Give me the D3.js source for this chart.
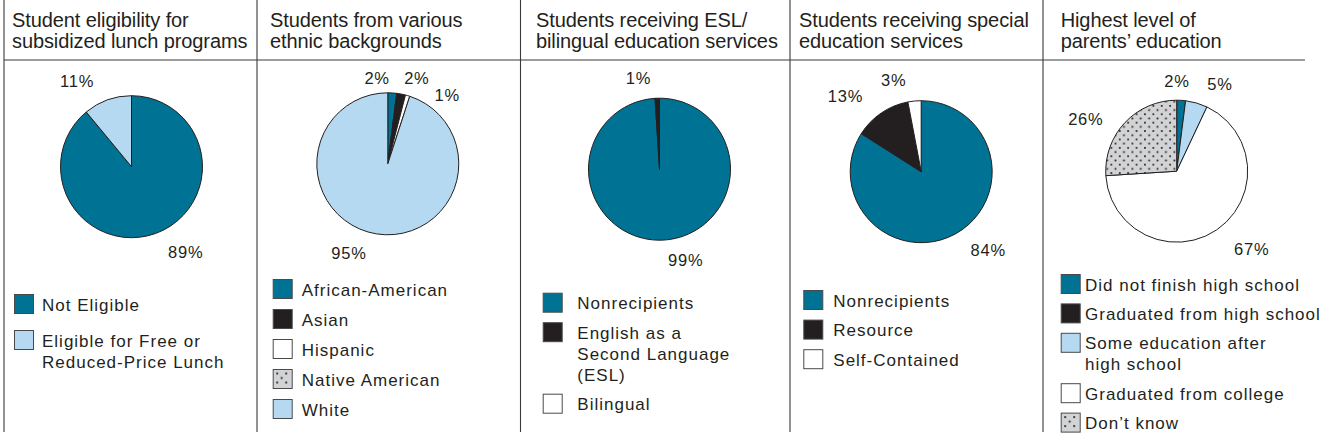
<!DOCTYPE html>
<html>
<head>
<meta charset="utf-8">
<script src="https://cdn.jsdelivr.net/npm/d3@7/dist/d3.min.js"></script>
<style>
  body { margin: 0; background: #fff; }
  svg { display: block; }
  text { font-family: "Liberation Sans", Arial, sans-serif; fill: #231f20; }
  .title { font-size: 20px; letter-spacing: -0.1px; }
  .pct { font-size: 16.5px; letter-spacing: 0.8px; }
  .leg { font-size: 17px; letter-spacing: 1px; }
</style>
</head>
<body>
<div id="chart"></div>
<script>
// ---- data ----
const titles = [
  ['Student eligibility for', 'subsidized lunch programs'],
  ['Students from various', 'ethnic backgrounds'],
  ['Students receiving ESL/', 'bilingual education services'],
  ['Students receiving special', 'education services'],
  ['Highest level of', 'parents\u2019 education']
];

const lunchCategories = ['Not Eligible', 'Eligible for Free or\nReduced-Price Lunch'];
const lunchValues = [89, 11];

const ethnicCategories = ['African-American', 'Asian', 'Hispanic', 'Native American', 'White'];
const ethnicValues = [2, 2, 1, 0, 95];

const eslCategories = ['Nonrecipients', 'English as a\nSecond Language\n(ESL)', 'Bilingual'];
const eslValues = [99, 1, 0];

const specialCategories = ['Nonrecipients', 'Resource', 'Self-Contained'];
const specialValues = [84, 13, 3];

const parentCategories = ['Did not finish high school', 'Graduated from high school',
  'Some education after\nhigh school', 'Graduated from college', 'Don\u2019t know'];
const parentValues = [2, 0, 5, 67, 26];

// ---- styles ----
const fills = {
  teal: '#007394',
  black: '#231f20',
  white: '#ffffff',
  light: '#b5d9f1',
  dots: 'url(#dots)'
};

// ---- layout ----
const W = 1322, H = 443;
const dividers = [4, 257, 520.5, 790, 1043];
const lineBottom = 432, headerY = 60, headerEnd = 1305;
const radius = 71;

const panels = [
  { title: titles[0], cats: lunchCategories, vals: lunchValues, fill: ['teal', 'light'],
    tx: 12, cx: 131.5, cy: 166.7,
    lblShift: [-12.5, -12.6], lblR: [101.5, 101.5],
    lx: 14, ly: 294, gap: 36, lt: 28 },
  { title: titles[1], cats: ethnicCategories, vals: ethnicValues, fill: ['teal', 'black', 'white', 'dots', 'light'],
    tx: 270, cx: 387.8, cy: 163.8,
    lblShift: [-10.7, 7.9, 24.5, 0, 14.4], lblR: [86.5, 90.6, 91.2, 0, 97.5],
    lx: 272.7, ly: 279, gap: 30, lt: 29 },
  { title: titles[2], cats: eslCategories, vals: eslValues, fill: ['teal', 'black', 'white'],
    tx: 536, cx: 659.5, cy: 169.2,
    lblShift: [-14.4, -11.1, 0], lblR: [94.3, 94, 0],
    lx: 542.7, ly: 292.7, gap: 29.5, lt: 34.6 },
  { title: titles[3], cats: specialCategories, vals: specialValues, fill: ['teal', 'black', 'white'],
    tx: 799, cx: 921.2, cy: 171.7,
    lblShift: [-11.6, -10.7, -11.2], lblR: [103.5, 107.2, 95.9],
    lx: 803.3, ly: 290, gap: 29.6, lt: 30 },
  { title: titles[4], cats: parentCategories, vals: parentValues, fill: ['teal', 'black', 'light', 'white', 'dots'],
    tx: 1060.7, cx: 1176.7, cy: 171.2,
    lblShift: [-3.4, 0, 10.3, -9.8, -13.4], lblR: [90.4, 0, 97.2, 108, 104.7],
    lx: 1060.7, ly: 274, gap: 29.4, lt: 24.3 }
];

const svg = d3.select('#chart').append('svg')
  .attr('width', W)
  .attr('height', H);

// dotted fill
const defs = svg.append('defs');
const pat = defs.append('pattern')
  .attr('id', 'dots')
  .attr('patternUnits', 'userSpaceOnUse')
  .attr('width', 8.4).attr('height', 8.4);
pat.append('rect').attr('width', 8.4).attr('height', 8.4).attr('fill', '#d2d3d5');
pat.append('rect').attr('x', 1).attr('y', 1).attr('width', 1.7).attr('height', 1.7).attr('fill', '#231f20');
pat.append('rect').attr('x', 5.2).attr('y', 5.2).attr('width', 1.7).attr('height', 1.7).attr('fill', '#231f20');

const legPat = defs.append('pattern')
  .attr('id', 'legdots')
  .attr('patternUnits', 'objectBoundingBox')
  .attr('width', 1).attr('height', 1);
legPat.append('rect').attr('width', 19).attr('height', 19).attr('fill', '#d2d3d5');
[[4, 4], [13, 4], [8.5, 8.5], [4, 13], [13, 13]].forEach(p => {
  legPat.append('rect').attr('x', p[0] - 0.9).attr('y', p[1] - 0.9)
    .attr('width', 1.8).attr('height', 1.8).attr('fill', '#231f20');
});

// frame lines
svg.append('line')
  .attr('x1', dividers[0]).attr('x2', headerEnd)
  .attr('y1', headerY).attr('y2', headerY)
  .attr('stroke', '#3a3a3a').attr('stroke-width', 1.1);

svg.selectAll('.divider')
  .data(dividers)
  .enter()
  .append('line')
  .attr('class', 'divider')
  .attr('x1', d => d).attr('x2', d => d)
  .attr('y1', 0).attr('y2', lineBottom)
  .attr('stroke', '#3a3a3a').attr('stroke-width', 1.1);

const pie = d3.pie().sort(null).value(d => d);
const arc = d3.arc().innerRadius(0).outerRadius(radius);
const toRad = Math.PI / 180;

panels.forEach(p => {
  const g = svg.append('g');

  // title
  const t = g.append('text').attr('class', 'title')
    .attr('x', p.tx).attr('y', 27);
  p.title.forEach((line, i) => {
    t.append('tspan').attr('x', p.tx).attr('dy', i === 0 ? 0 : 21).text(line);
  });

  // pie
  const arcs = pie(p.vals);
  const pg = g.append('g').attr('transform', `translate(${p.cx},${p.cy})`);
  pg.selectAll('path')
    .data(arcs.filter(d => d.value > 0))
    .enter()
    .append('path')
    .attr('d', arc)
    .attr('fill', d => fills[p.fill[d.index]])
    .attr('stroke', '#231f20')
    .attr('stroke-width', 1)
    .attr('stroke-linejoin', 'round');

  // percentage labels
  pg.selectAll('.pct')
    .data(arcs.filter(d => d.value > 0))
    .enter()
    .append('text')
    .attr('class', 'pct')
    .attr('text-anchor', 'middle')
    .attr('dy', '0.36em')
    .attr('transform', d => {
      const a = (d.startAngle + d.endAngle) / 2 + p.lblShift[d.index] * toRad;
      const r = p.lblR[d.index];
      return `translate(${r * Math.sin(a)},${-r * Math.cos(a)})`;
    })
    .text(d => d.value + '%');

  // legend
  let y = p.ly;
  p.cats.forEach((c, i) => {
    const lines = c.split('\n');
    const f = p.fill[i] === 'dots' ? 'url(#legdots)' : fills[p.fill[i]];
    g.append('rect')
      .attr('x', p.lx + 0.5).attr('y', y + 0.5)
      .attr('width', 19).attr('height', 19)
      .attr('fill', f)
      .attr('stroke', '#4a4a4a').attr('stroke-width', 1);
    const lt = g.append('text').attr('class', 'leg')
      .attr('x', p.lx + p.lt).attr('y', y + 16.5);
    lines.forEach((line, k) => {
      lt.append('tspan').attr('x', p.lx + p.lt).attr('dy', k === 0 ? 0 : 21).text(line);
    });
    y += p.gap + (lines.length - 1) * 21;
  });
});
</script>
</body>
</html>
